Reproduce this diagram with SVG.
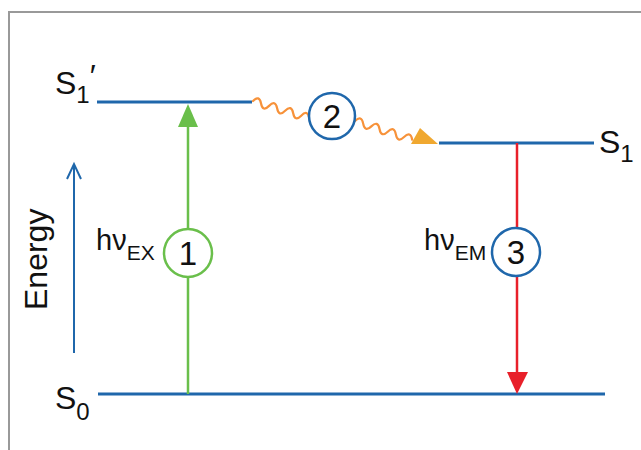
<svg xmlns="http://www.w3.org/2000/svg" width="641" height="450" viewBox="0 0 641 450">
<style>
text{font-family:"Liberation Sans",Arial,sans-serif;fill:#111}
.lvl{stroke:#1f67ab;stroke-width:3;fill:none}
.num{font-size:33px;text-anchor:middle}
.big{font-size:32px}
.sub{font-size:24px}
.hv{font-size:29px}
.hvs{font-size:21px}
.wave{stroke:#f7923a;stroke-width:2.2;fill:none;stroke-linecap:round}
</style>
<rect width="641" height="450" fill="#fff"/>
<g id="frame"><path d="M9,450 V12 H641" fill="none" stroke="#999" stroke-width="2"/></g>

<g id="levels">
<line class="lvl" x1="97" y1="102" x2="252" y2="102"/>
<line class="lvl" x1="439" y1="143" x2="594" y2="143"/>
<line class="lvl" x1="98" y1="394" x2="605" y2="394"/>
</g>

<g id="labels">
<text x="55" y="94"><tspan class="big">S</tspan><tspan class="sub" dy="9">1</tspan><tspan class="big" dy="-16">′</tspan></text>
<text x="599" y="153"><tspan class="big">S</tspan><tspan class="sub" dy="9">1</tspan></text>
<text x="55" y="409"><tspan class="big">S</tspan><tspan class="sub" dy="11">0</tspan></text>
<text x="96" y="250"><tspan class="hv">hν</tspan><tspan class="hvs" dy="10">EX</tspan></text>
<text x="424" y="250"><tspan class="hv">hν</tspan><tspan class="hvs" dy="10">EM</tspan></text>
<text class="big" transform="translate(47,310) rotate(-90)">Energy</text>
</g>

<g id="connectors">
<g id="energy-axis">
<line x1="74" y1="353" x2="74" y2="166" stroke="#1f67ab" stroke-width="2"/>
<polyline points="67,179 74,164 81,179" fill="none" stroke="#1f67ab" stroke-width="2"/>
</g>
<g id="excitation">
<line x1="188" y1="394" x2="188" y2="125" stroke="#6abf4b" stroke-width="2.5"/>
<polygon points="178,127 188,104 198,127" fill="#6abf4b"/>
</g>
<g id="relaxation">
<path class="wave" transform="translate(253,101) rotate(16.9)" d="M0,0 q4.2,-8 8.4,0 t8.4,0 t8.4,0 t8.4,0 t8.4,0 t8.4,0 t8.4,0"/>
<path class="wave" transform="translate(355,121) rotate(18.1)" d="M0,0 q4.3,-8 8.6,0 t8.6,0 t8.6,0 t8.6,0 t8.6,0 t8.6,0 t8.6,0"/>
<polygon points="411,144 420,128 438,144" fill="#f0a830"/>
</g>
<g id="emission">
<line x1="517" y1="143" x2="517" y2="374" stroke="#e8202a" stroke-width="2.5"/>
<polygon points="507,372 517,394 528,372" fill="#e8202a"/>
</g>
</g>

<g id="step1">
<circle cx="188" cy="253" r="24" fill="#fff" stroke="#6abf4b" stroke-width="2.5"/>
<text class="num" x="188" y="265">1</text>
</g>
<g id="step2">
<circle cx="332" cy="116" r="23" fill="#fff" stroke="#1f67ab" stroke-width="2.5"/>
<text class="num" x="332" y="128">2</text>
</g>
<g id="step3">
<circle cx="516" cy="252" r="24" fill="#fff" stroke="#1f67ab" stroke-width="2.5"/>
<text class="num" x="516" y="264">3</text>
</g>
</svg>
